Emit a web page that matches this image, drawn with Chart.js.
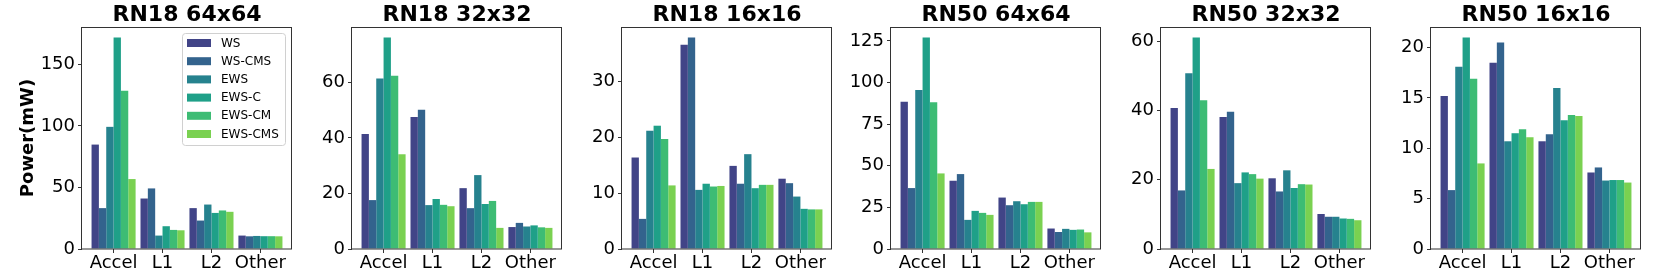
<!DOCTYPE html>
<html><head><meta charset="utf-8">
<script src="https://cdn.jsdelivr.net/npm/chart.js@4.4.0/dist/chart.umd.min.js"></script>
<style>
html,body{margin:0;padding:0;background:#fff;}
#wrap{position:relative;width:1661px;height:277px;overflow:hidden;background:#fff;}
canvas{position:absolute;top:0;}
</style></head><body><div id="wrap"></div>
<script>
const categories = ['Accel', 'L1', 'L2', 'Other'];
const seriesNames = ['WS', 'WS-CMS', 'EWS', 'EWS-C', 'EWS-CM', 'EWS-CMS'];
const seriesColors = ['#414487', '#33638d', '#26828e', '#1fa088', '#3dbc74', '#7ad151'];
const titles = ['RN18 64x64', 'RN18 32x32', 'RN18 16x16', 'RN50 64x64', 'RN50 32x32', 'RN50 16x16'];

// rows = series (WS, WS-CMS, EWS, EWS-C, EWS-CM, EWS-CMS), columns = categories
const RN18_64 = [
  [84.8, 41.0, 33.2, 10.9],
  [33.2, 49.2, 23.1, 10.3],
  [99.2, 10.9, 36.1, 10.6],
  [171.7, 18.5, 29.3, 10.4],
  [128.5, 15.5, 31.3, 10.4],
  [56.8, 15.2, 30.2, 10.3]
];
const RN18_32 = [
  [41.4, 47.5, 21.9, 7.9],
  [17.6, 50.1, 14.7, 9.4],
  [61.4, 15.8, 26.6, 8.1],
  [76.1, 18.0, 16.2, 8.5],
  [62.4, 15.9, 17.3, 7.8],
  [34.1, 15.4, 7.6, 7.6]
];
const RN18_16 = [
  [16.4, 36.6, 14.9, 12.6],
  [5.4, 37.9, 11.7, 11.8],
  [21.2, 10.6, 17.0, 9.4],
  [22.1, 11.7, 10.9, 7.2],
  [19.7, 11.2, 11.5, 7.1],
  [11.4, 11.3, 11.5, 7.1]
];
const RN50_64 = [
  [88.4, 41.0, 30.9, 12.3],
  [36.6, 45.0, 26.3, 10.2],
  [95.5, 17.5, 28.7, 12.1],
  [127.0, 22.9, 26.9, 11.5],
  [88.2, 21.7, 28.3, 11.7],
  [45.4, 20.5, 28.3, 10.0]
];
const RN50_32 = [
  [40.7, 38.1, 20.4, 10.1],
  [16.9, 39.6, 16.6, 9.3],
  [50.7, 19.0, 22.7, 9.3],
  [61.0, 22.1, 17.6, 8.8],
  [42.9, 21.6, 18.7, 8.7],
  [23.1, 20.3, 18.6, 8.3]
];
const RN50_16 = [
  [15.2, 18.5, 10.7, 7.6],
  [5.85, 20.5, 11.4, 8.1],
  [18.1, 10.7, 16.0, 6.8],
  [21.0, 11.5, 12.8, 6.85],
  [16.9, 11.9, 13.3, 6.85],
  [8.5, 11.1, 13.2, 6.6]
];
const yTicks = [
  [0, 50, 100, 150],
  [0, 20, 40, 60],
  [0, 10, 20, 30],
  [0, 25, 50, 75, 100, 125],
  [0, 20, 40, 60],
  [0, 5, 10, 15, 20]
];
const panels = [RN18_64, RN18_32, RN18_16, RN50_64, RN50_32, RN50_16];

// layout
const axisLefts = [82, 352, 622, 891, 1161, 1431];
const axisW = 210, yAxisW = 82, padR = 3;
const FONT = "'DejaVu Sans', sans-serif";

const framePlugin = {
  id: 'frame',
  afterDatasetsDraw(chart) {
    const a = chart.chartArea, ctx = chart.ctx;
    ctx.save();
    ctx.strokeStyle = '#333';
    ctx.lineWidth = 1;
    ctx.strokeRect(Math.round(a.left) - 0.5, Math.round(a.top) + 0.5, Math.round(a.right - a.left), Math.round(a.bottom - a.top) - 0.5);
    ctx.restore();
  }
};

const legendPlugin = {
  id: 'innerLegend',
  afterDraw(chart, args, opts) {
    if (!opts || !opts.show) return;
    const a = chart.chartArea, ctx = chart.ctx;
    const bx = a.left + 100, by = a.top + 6, bw = 103, bh = 112;
    ctx.save();
    ctx.fillStyle = 'rgba(255,255,255,0.8)';
    ctx.strokeStyle = '#d0d0d0';
    ctx.lineWidth = 1;
    ctx.beginPath();
    ctx.roundRect(bx + 0.5, by + 0.5, bw, bh, 3);
    ctx.fill();
    ctx.stroke();
    ctx.font = "12px " + FONT;
    ctx.textBaseline = 'middle';
    ctx.textAlign = 'left';
    chart.data.datasets.forEach((ds, i) => {
      const cy = by + 10 + i * 18.2;
      ctx.fillStyle = ds.backgroundColor;
      ctx.fillRect(bx + 5, cy - 4, 24, 8);
      ctx.fillStyle = '#000';
      ctx.fillText(ds.label, bx + 39, cy + 0.5);
    });
    ctx.restore();
  }
};

const wrap = document.getElementById('wrap');
panels.forEach((rows, p) => {
  const canvas = document.createElement('canvas');
  const w = yAxisW + axisW + padR, h = 277;
  canvas.width = w; canvas.height = h;
  canvas.style.left = (axisLefts[p] - yAxisW) + 'px';
  canvas.style.width = w + 'px'; canvas.style.height = h + 'px';
  wrap.appendChild(canvas);
  let maxV = 0;
  rows.forEach(r => r.forEach(v => { if (v > maxV) maxV = v; }));
  const datasets = rows.map((r, i) => ({
    label: seriesNames[i],
    data: r.map((v, j) => ({ x: j, y: v })),
    backgroundColor: seriesColors[i],
    borderWidth: 0,
    categoryPercentage: 0.9,
    barPercentage: 1.0
  }));
  const ticksY = yTicks[p];
  new Chart(canvas, {
    type: 'bar',
    data: { datasets },
    plugins: [framePlugin, legendPlugin],
    options: {
      responsive: false,
      animation: false,
      devicePixelRatio: 1,
      layout: { padding: { left: 0, right: padR, top: 0, bottom: 0 } },
      plugins: {
        legend: { display: false },
        tooltip: { enabled: false },
        title: {
          display: true, text: titles[p], color: '#000', fullSize: false,
          font: { family: FONT, size: 22, weight: 'bold', lineHeight: 1 },
          padding: { top: 4, bottom: 1 }
        },
        innerLegend: { show: p === 0 }
      },
      scales: {
        x: {
          type: 'linear', min: -0.645, max: 3.645, offset: false, bounds: 'data',
          afterBuildTicks: (s) => { s.ticks = categories.map((c, i) => ({ value: i })); },
          afterFit: (s) => { s.height = 28; },
          ticks: {
            autoSkip: false, maxRotation: 0, padding: 0, color: '#000',
            font: { family: FONT, size: 18 },
            callback: (v) => categories[v]
          },
          grid: { offset: false, drawOnChartArea: false, drawTicks: true, tickLength: 4, color: '#333' },
          border: { display: false }
        },
        y: {
          min: 0, max: maxV * 1.05,
          afterBuildTicks: (s) => { s.ticks = ticksY.map(v => ({ value: v })); },
          afterFit: (s) => { s.width = yAxisW; },
          ticks: { padding: 3, color: '#000', font: { family: FONT, size: 18 } },
          grid: { drawOnChartArea: false, drawTicks: true, tickLength: 4, color: '#333' },
          border: { display: false },
          title: {
            display: p === 0, text: 'Power(mW)', color: '#000',
            font: { family: FONT, size: 18, weight: 'bold' },
            padding: { top: 18, bottom: 0 }
          }
        }
      }
    }
  });
});
</script>
</body></html>
